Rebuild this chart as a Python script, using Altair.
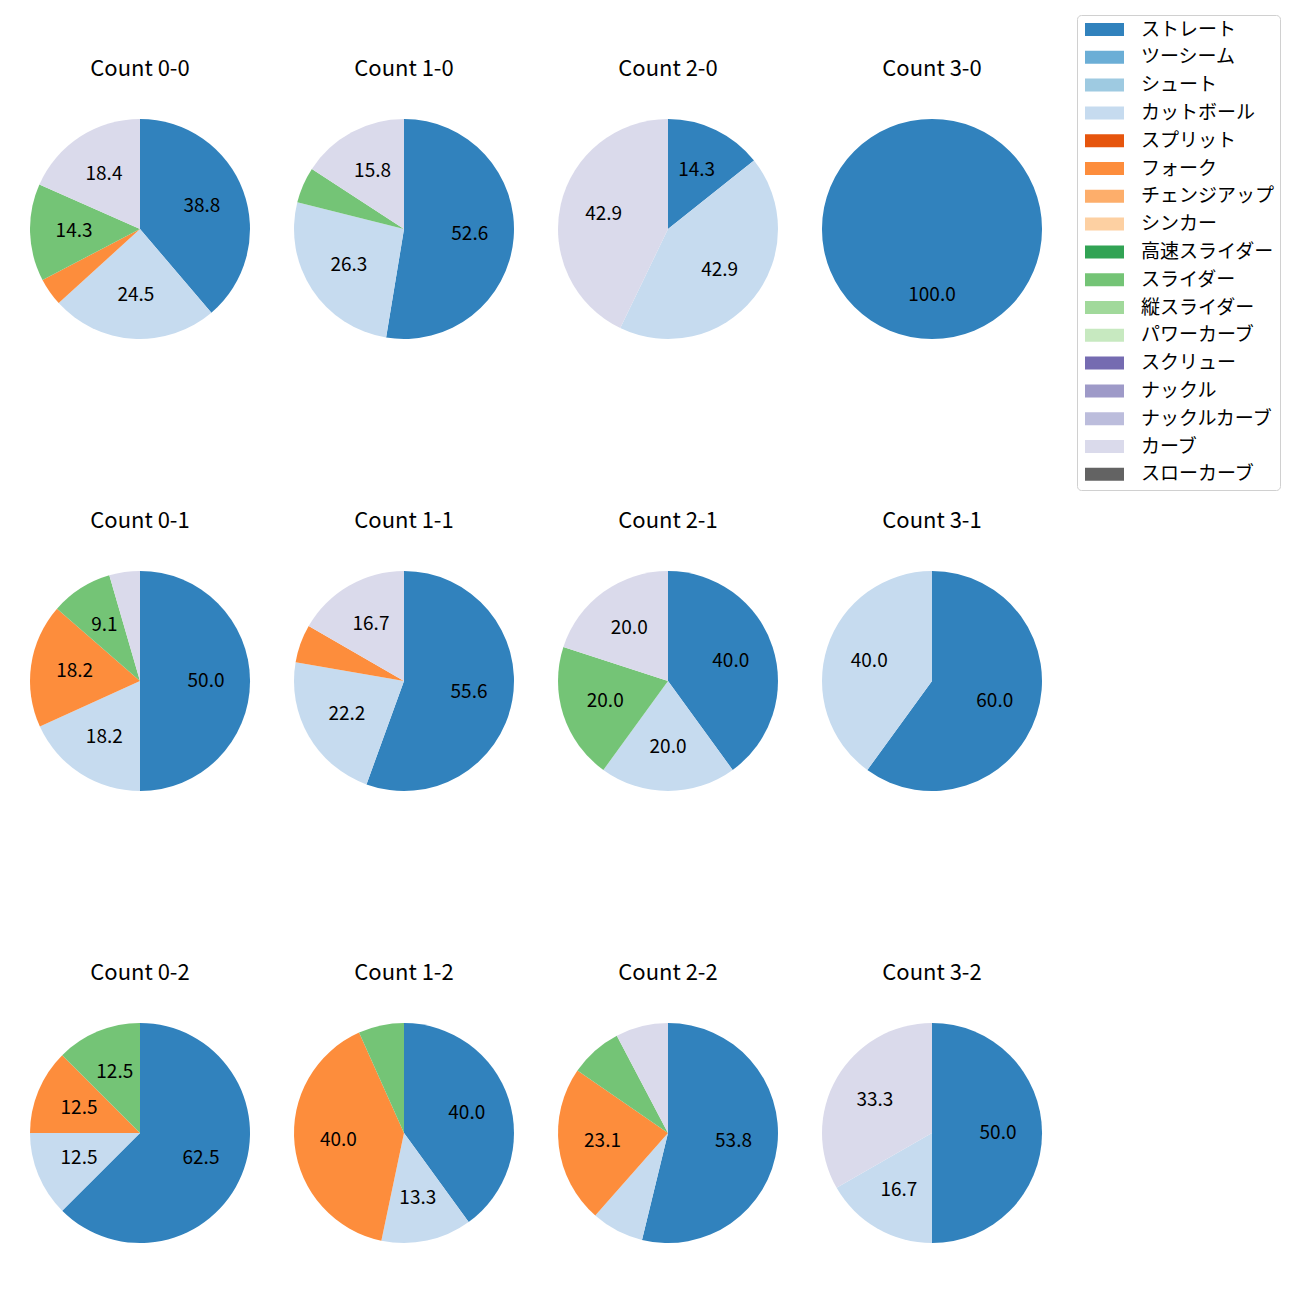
import altair as alt
import pandas as pd

FONT = "Noto Sans CJK JP"

pitch_types = ["ストレート", "ツーシーム", "シュート", "カットボール", "スプリット", "フォーク",
               "チェンジアップ", "シンカー", "高速スライダー", "スライダー", "縦スライダー",
               "パワーカーブ", "スクリュー", "ナックル", "ナックルカーブ", "カーブ", "スローカーブ"]
pitch_colors = ["#3182bd", "#6baed6", "#9ecae1", "#c6dbef", "#e6550d", "#fd8d3c",
                "#fdae6b", "#fdd0a2", "#31a354", "#74c476", "#a1d99b", "#c7e9c0",
                "#756bb1", "#9e9ac8", "#bcbddc", "#dadaeb", "#636363"]

counts = ["0-0", "1-0", "2-0", "3-0", "0-1", "1-1", "2-1", "3-1", "0-2", "1-2", "2-2", "3-2"]

pitches_by_count = [
    ["ストレート", "カットボール", "フォーク", "スライダー", "カーブ"],
    ["ストレート", "カットボール", "スライダー", "カーブ"],
    ["ストレート", "カットボール", "カーブ"],
    ["ストレート"],
    ["ストレート", "カットボール", "フォーク", "スライダー", "カーブ"],
    ["ストレート", "カットボール", "フォーク", "カーブ"],
    ["ストレート", "カットボール", "スライダー", "カーブ"],
    ["ストレート", "カットボール"],
    ["ストレート", "カットボール", "フォーク", "スライダー"],
    ["ストレート", "カットボール", "フォーク", "スライダー"],
    ["ストレート", "カットボール", "フォーク", "スライダー", "カーブ"],
    ["ストレート", "カットボール", "カーブ"],
]
shares_by_count = [
    [38.8, 24.5, 4.1, 14.3, 18.4],
    [52.6, 26.3, 5.3, 15.8],
    [14.3, 42.9, 42.9],
    [100.0],
    [50.0, 18.2, 18.2, 9.1, 4.5],
    [55.6, 22.2, 5.6, 16.7],
    [40.0, 20.0, 20.0, 20.0],
    [60.0, 40.0],
    [62.5, 12.5, 12.5, 12.5],
    [40.0, 13.3, 40.0, 6.7],
    [53.8, 7.7, 23.1, 7.7, 7.7],
    [50.0, 16.7, 33.3],
]

rows = []
for c, ps, ss in zip(counts, pitches_by_count, shares_by_count):
    for p, s in zip(ps, ss):
        rows.append({
            "title": "Count " + c,
            "pitch": p,
            "idx": pitch_types.index(p),
            "share": s,
            "label": f"{s:.1f}" if s >= 8 else "",
        })
df = pd.DataFrame(rows)
titles = ["Count " + c for c in counts]

base = alt.Chart().encode(
    theta=alt.Theta("share:Q", stack="normalize"),
    order=alt.Order("idx:Q", sort="ascending"),
)

arc = base.mark_arc().encode(
    color=alt.Color(
        "pitch:N",
        scale=alt.Scale(domain=pitch_types, range=pitch_colors),
        legend=alt.Legend(
            title=None,
            orient="none",
            legendX=1047,
            legendY=-104,
            symbolType="M-1,-1H5V1H-1Z",
            symbolSize=169,
            symbolStrokeWidth=0,
            labelFont=FONT,
            labelFontSize=19,
            labelColor="black",
            labelOffset=40,
            rowPadding=7.8,
            padding=5,
            strokeColor="#d0d0d0",
            cornerRadius=4,
            fillColor="white",
            labelLimit=300,
        ),
    )
)

text = base.mark_text(radius=66, fontSize=19, font=FONT, color="black").encode(
    text="label:N",
    detail="pitch:N",
)

chart = (
    alt.layer(arc, text, data=df)
    .properties(width=220, height=220)
    .facet(
        facet=alt.Facet(
            "title:N",
            sort=titles,
            header=alt.Header(
                title=None,
                labelFont=FONT,
                labelFontSize=22,
                labelColor="black",
                labelPadding=38,
            ),
        ),
        columns=4,
        spacing={"row": 171, "column": 44},
    )
    .properties(padding={"left": 30, "top": 14, "right": 5, "bottom": 5})
    .configure_view(stroke=None)
)

chart.save("out.html", embed_options={"renderer": "svg", "actions": False})
